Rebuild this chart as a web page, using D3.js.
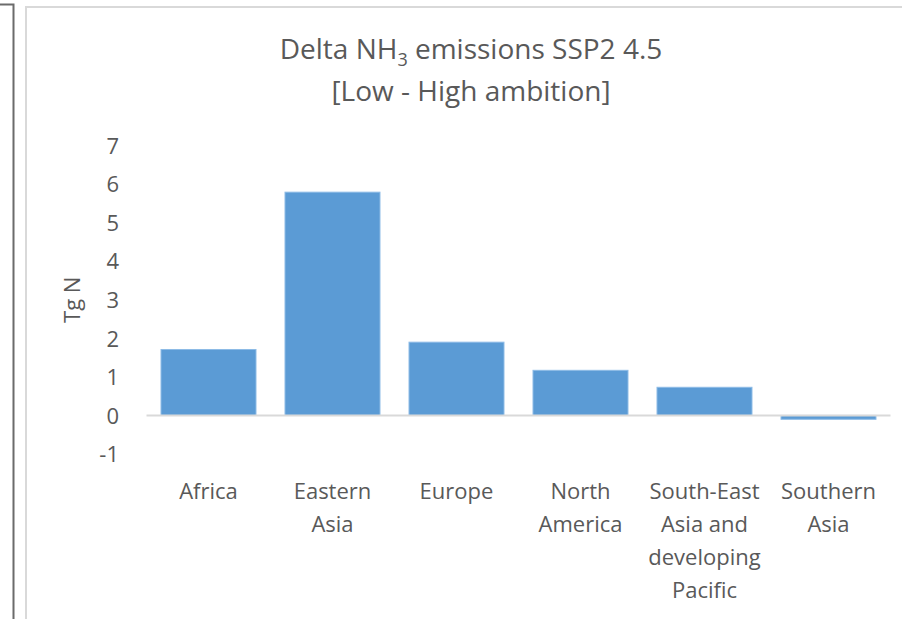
<!DOCTYPE html>
<html>
<head>
<meta charset="utf-8">
<script src="https://cdn.jsdelivr.net/npm/d3@7"></script>
<style>
  html, body { margin: 0; padding: 0; background: #fff; overflow: hidden; }
  svg { display: block; }
  text { font-family: "Open Sans", "Noto Sans", sans-serif; fill: #595959; }
</style>
</head>
<body>
<svg id="chart" width="902" height="619"></svg>
<script>
// Regional difference in NH3 emissions between low and high ambition (Tg N)
const categories = [
  ["Africa"],
  ["Eastern", "Asia"],
  ["Europe"],
  ["North", "America"],
  ["South-East", "Asia and", "developing", "Pacific"],
  ["Southern", "Asia"]
];
const values = [1.71, 5.79, 1.90, 1.17, 0.73, -0.10];
const yTicks = [-1, 0, 1, 2, 3, 4, 5, 6, 7];
const yLabel = "Tg N";

const svg = d3.select("#chart");
const W = 902, H = 619;

// outer decorations: neighbouring page edge and chart frame
svg.append("path").attr("d", `M0,4.5 H13.5 V${H}`)
  .attr("fill", "none").attr("stroke", "#6b6b6b").attr("stroke-width", 2);
svg.append("rect").attr("x", 26).attr("y", 7).attr("width", W + 20).attr("height", H + 20)
  .attr("fill", "#fff").attr("stroke", "#d9d9d9").attr("stroke-width", 2);

const plot = { left: 146.5, right: 890.5, top: 145.5, bottom: 454 };

const x = d3.scaleBand()
  .domain(categories.map((d, i) => i))
  .range([plot.left, plot.right])
  .paddingInner(0.234)
  .paddingOuter(0.117);

const y = d3.scaleLinear().domain([-1, 7]).range([plot.bottom, plot.top]);

// title
const title = svg.append("text").attr("text-anchor", "middle")
  .attr("x", 471).attr("y", 59).style("font-size", "28px");
title.append("tspan").text("Delta NH");
title.append("tspan").text("3").style("font-size", "18px").attr("dy", 7);
title.append("tspan").text(" emissions SSP2 4.5").attr("dy", -7);
svg.append("text").attr("text-anchor", "middle")
  .attr("x", 471).attr("y", 101).style("font-size", "28px")
  .text("[Low - High ambition]");

// y axis labels (no line, no ticks)
const yAxis = d3.axisLeft(y).tickValues(yTicks).tickSize(0).tickPadding(0)
  .tickFormat(d => String(d));
const gy = svg.append("g").attr("transform", "translate(119,0)").call(yAxis);
gy.select(".domain").remove();
gy.selectAll("text").style("font-size", "22px").attr("fill", "#595959")
  .style("font-family", "\"Open Sans\", sans-serif").attr("dy", "0.35em");

svg.append("text")
  .attr("transform", `translate(80,${(y(7) + y(-1)) / 2}) rotate(-90)`)
  .attr("text-anchor", "middle").style("font-size", "22px")
  .text(yLabel);

// bars
svg.append("g").selectAll("rect").data(values).join("rect")
  .attr("x", (d, i) => x(i))
  .attr("width", x.bandwidth())
  .attr("y", d => y(Math.max(0, d)))
  .attr("height", d => Math.abs(y(d) - y(0)))
  .attr("fill", "#5b9bd5")
  .attr("stroke", "#8dbbe6").attr("stroke-width", 1);

// zero line
svg.append("line")
  .attr("x1", plot.left).attr("x2", plot.right)
  .attr("y1", y(0)).attr("y2", y(0))
  .attr("stroke", "#d9d9d9").attr("stroke-width", 2);

// category labels
const cat = svg.append("g").selectAll("text").data(categories).join("text")
  .attr("text-anchor", "middle")
  .attr("x", (d, i) => x(i) + x.bandwidth() / 2)
  .attr("y", 499)
  .style("font-size", "22px");
cat.selectAll("tspan").data(d => d).join("tspan")
  .attr("x", function () { return this.parentNode.getAttribute("x"); })
  .attr("dy", (d, i) => i === 0 ? 0 : 33)
  .text(d => d);
</script>
</body>
</html>
